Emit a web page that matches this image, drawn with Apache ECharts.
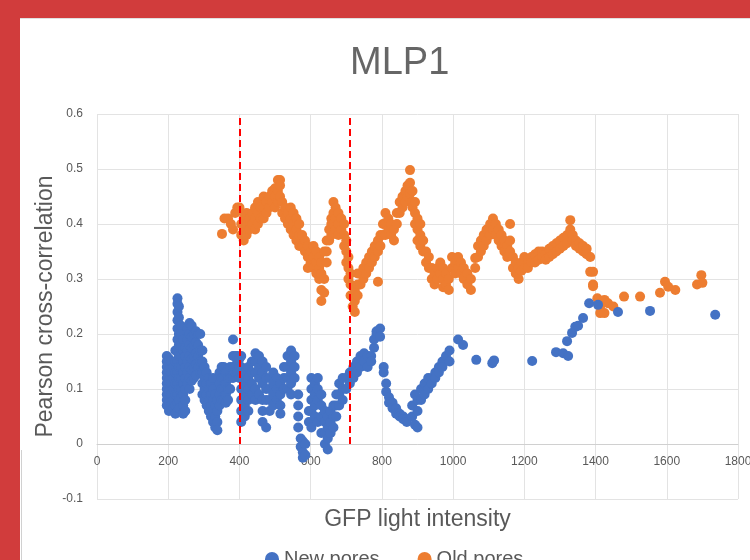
<!DOCTYPE html>
<html><head><meta charset="utf-8">
<script src="https://cdn.jsdelivr.net/npm/echarts@6/dist/echarts.min.js"></script>
<style>html,body{margin:0;padding:0;background:#fff}#c{width:750px;height:560px}</style>
</head><body><div id="c"></div>
<script>
// Each row: [GFP intensity, correlation values observed at that intensity...]
const newPores = [
[196,0.16,0.15,0.14,0.13,0.12,0.11,0.10,0.09,0.08,0.07],
[202,0.155,0.135,0.115,0.095,0.075,0.06],
[208,0.15,0.13,0.11,0.09,0.07],
[214,0.14,0.12,0.10,0.08,0.065],
[220,0.17,0.15,0.13,0.11,0.09,0.07,0.055],
[226,0.265,0.255,0.24,0.225,0.21,0.19,0.17,0.15,0.13,0.11,0.09,0.075],
[230,0.25,0.23,0.20,0.18,0.16,0.14,0.12,0.10,0.08,0.065],
[236,0.215,0.2,0.18,0.16,0.14,0.12,0.10,0.085],
[242,0.19,0.17,0.15,0.13,0.11,0.09,0.07,0.055],
[248,0.175,0.16,0.14,0.12,0.10,0.08,0.06],
[254,0.21,0.19,0.17,0.15,0.13,0.11],
[260,0.22,0.20,0.18,0.16,0.14,0.12,0.10],
[266,0.215,0.195,0.175,0.155,0.135,0.115],
[272,0.20,0.18,0.16,0.14,0.12],
[278,0.205,0.185,0.165,0.145,0.125],
[284,0.20,0.18,0.16,0.14],
[290,0.20,0.17,0.15,0.13],
[296,0.17,0.15,0.13,0.11,0.09],
[302,0.14,0.12,0.10,0.08],
[308,0.13,0.11,0.09,0.07],
[314,0.12,0.10,0.08,0.06],
[320,0.11,0.09,0.07,0.05],
[326,0.12,0.10,0.08,0.06,0.04],
[332,0.09,0.07,0.05,0.03],
[338,0.08,0.06,0.04,0.025],
[344,0.13,0.11,0.09,0.07],
[350,0.14,0.12,0.10,0.08],
[356,0.14,0.12,0.10,0.08],
[362,0.13,0.11,0.09,0.075],
[368,0.12,0.10,0.08],
[374,0.14,0.12,0.10],
[382,0.19,0.16,0.14,0.12],
[388,0.16,0.14,0.13],
[394,0.16,0.15,0.13],
[400,0.155,0.14,0.12],
[405,0.16,0.14,0.12,0.10,0.08,0.06,0.04],
[415,0.13,0.11,0.09,0.07,0.05],
[425,0.14,0.12,0.10,0.08,0.06],
[435,0.15,0.13,0.11,0.09],
[445,0.165,0.15,0.13,0.10,0.08],
[455,0.16,0.14,0.12,0.09],
[465,0.15,0.13,0.11,0.08,0.06,0.04],
[475,0.14,0.12,0.10,0.08,0.03],
[485,0.12,0.10,0.08,0.06],
[495,0.13,0.11,0.09,0.07],
[505,0.12,0.10,0.08],
[515,0.11,0.09,0.07,0.055],
[525,0.14,0.12,0.10],
[535,0.16,0.14,0.12,0.10],
[545,0.17,0.15,0.13,0.11,0.09],
[555,0.16,0.14,0.12],
[565,0.09,0.07,0.05,0.03],
[572,0.01,-0.005],
[578,-0.015,-0.025,0.005],
[585,-0.02,0.0],
[595,0.04,0.06],
[602,0.08,0.10,0.12,0.06,0.03],
[612,0.11,0.09,0.07,0.05],
[620,0.12,0.10,0.08,0.04],
[630,0.09,0.07,0.05,0.02],
[640,0.06,0.04,0.02,0.0],
[648,0.05,0.03,0.01,-0.01],
[656,0.06,0.04,0.02],
[664,0.07,0.05,0.03],
[672,0.09,0.07,0.05],
[680,0.11,0.09,0.07],
[690,0.12,0.10,0.08],
[700,0.12,0.10],
[710,0.13,0.11],
[720,0.14,0.12],
[730,0.15,0.13],
[740,0.16,0.14],
[750,0.165,0.15],
[760,0.16,0.14],
[770,0.16,0.15],
[778,0.175,0.19],
[785,0.20,0.205],
[795,0.21,0.195],
[805,0.14,0.13],
[812,0.11,0.095],
[820,0.085,0.075],
[830,0.075,0.065],
[840,0.065,0.055],
[850,0.055,0.05],
[860,0.05,0.045],
[870,0.045,0.04],
[885,0.07,0.05],
[893,0.09,0.035],
[900,0.08,0.06,0.03],
[910,0.10,0.08],
[920,0.11,0.09],
[930,0.12,0.10],
[940,0.12,0.11],
[950,0.13,0.12],
[960,0.14,0.13],
[970,0.15,0.14],
[980,0.16],
[990,0.17,0.15],
[1014,0.19],[1028,0.18],[1065,0.153],[1110,0.147],[1115,0.152],[1222,0.151],
[1289,0.167],[1309,0.165],[1323,0.16],[1320,0.187],[1334,0.202],[1343,0.213],
[1351,0.215],[1365,0.229],[1382,0.256],[1407,0.253],[1463,0.24],[1553,0.242],[1736,0.235]
];
const oldPores = [
[351,0.382],[358,0.41],[368,0.41],[376,0.40],[382,0.39],[388,0.42],[394,0.43],[400,0.425,0.43],
[405,0.40,0.38],
[412,0.41,0.39,0.37],
[420,0.42,0.40,0.38],
[428,0.41,0.39],
[436,0.42,0.40],
[444,0.43,0.41,0.39],
[452,0.44,0.42,0.40],
[460,0.43,0.41],
[468,0.45,0.43,0.41],
[476,0.44,0.42],
[484,0.45,0.43],
[492,0.46,0.44],
[500,0.465,0.45,0.43],
[508,0.48,0.46,0.44],
[514,0.48,0.47,0.45],
[520,0.44,0.42],
[528,0.43,0.41],
[536,0.42,0.40],
[544,0.43,0.41,0.39],
[552,0.42,0.40,0.38],
[560,0.41,0.39,0.37],
[568,0.40,0.38,0.36],
[576,0.38,0.36],
[584,0.37,0.35],
[592,0.36,0.34,0.32],
[600,0.35,0.33],
[608,0.36,0.34,0.32],
[616,0.35,0.33,0.31],
[624,0.34,0.32,0.30],
[630,0.33,0.31,0.28,0.26],
[638,0.35,0.30,0.275],
[645,0.37,0.35,0.33],
[652,0.39,0.37],
[658,0.41,0.40,0.38],
[664,0.44,0.42,0.40],
[670,0.43,0.41,0.39],
[678,0.42,0.40,0.38],
[686,0.41,0.39],
[694,0.40,0.38,0.36],
[700,0.37,0.35,0.33],
[706,0.34,0.32,0.30],
[712,0.31,0.29,0.27],
[718,0.27,0.25],
[724,0.24,0.26,0.28],
[732,0.27,0.29,0.31],
[740,0.29,0.31],
[748,0.30,0.32],
[756,0.31,0.33],
[764,0.32,0.34],
[772,0.33,0.35],
[780,0.34,0.36],
[789,0.295,0.35,0.37],
[796,0.36,0.38],
[803,0.38,0.40],
[810,0.40,0.42,0.38],
[818,0.41,0.39],
[826,0.40,0.38],
[834,0.39,0.37],
[842,0.40,0.42],
[850,0.42,0.44],
[858,0.43,0.45],
[866,0.44,0.46],
[872,0.47,0.45],
[879,0.498,0.475,0.455],
[886,0.46,0.44,0.43],
[893,0.44,0.42,0.40],
[900,0.41,0.39,0.37],
[908,0.40,0.38,0.36],
[916,0.37,0.35],
[924,0.35,0.33],
[932,0.34,0.32],
[940,0.32,0.30],
[948,0.31,0.29],
[956,0.32,0.30],
[964,0.33,0.31],
[972,0.32,0.30,0.285],
[980,0.31,0.29],
[988,0.30,0.28],
[997,0.34,0.32],
[1006,0.33,0.31],
[1014,0.34,0.32],
[1022,0.33,0.31],
[1030,0.32,0.30],
[1040,0.31,0.29],
[1050,0.30,0.28],
[1062,0.338,0.32],
[1070,0.36,0.34],
[1078,0.37,0.35],
[1086,0.38,0.36],
[1094,0.39,0.37],
[1104,0.40,0.38],
[1112,0.41,0.39],
[1120,0.40,0.38],
[1128,0.39,0.37],
[1136,0.38,0.36],
[1144,0.37,0.35],
[1152,0.36,0.34],
[1160,0.40,0.37,0.35],
[1168,0.34,0.32],
[1176,0.33,0.31],
[1184,0.30,0.32],
[1192,0.33,0.315],
[1200,0.34,0.32],
[1210,0.335,0.32],
[1220,0.34,0.33],
[1230,0.345,0.33],
[1240,0.35,0.335],
[1250,0.35,0.34],
[1260,0.345,0.335],
[1270,0.355,0.34],
[1280,0.36,0.345],
[1290,0.365,0.35],
[1300,0.37,0.355],
[1310,0.375,0.36],
[1320,0.38,0.365],
[1329,0.407,0.39],
[1336,0.38,0.37],
[1345,0.37,0.36],
[1355,0.365,0.355],
[1365,0.36,0.35],
[1375,0.355,0.345],
[1385,0.34,0.313],
[1393,0.313,0.29,0.287],
[1405,0.265],
[1413,0.25,0.238],
[1425,0.262,0.238],
[1435,0.256],
[1450,0.25],
[1480,0.268],[1525,0.268],[1581,0.275],[1595,0.295],[1604,0.286],[1624,0.28],
[1685,0.29],[1697,0.307],[1700,0.293]
];
const cutoffs = [400, 710];
const xTicks = {min: 0, max: 1800, step: 200};
const yTicks = {min: -0.1, max: 0.6, step: 0.1};
const seriesNames = ['New pores', 'Old pores'];

function toPairs(rows){
  const out = [];
  rows.forEach(r => { for (let i = 1; i < r.length; i++) out.push([r[0], r[i]]); });
  return out;
}

const GRID = {left: 97, right: 12, top: 114, bottom: 61};
const plotH = 560 - GRID.top - GRID.bottom;
// x axis sits at y = 0, i.e. one y step above the bottom of the plot
const zeroOffset = -plotH * (0 - yTicks.min) / (yTicks.max - yTicks.min);

const chart = echarts.init(document.getElementById('c'), null, {renderer: 'canvas'});
const txt = '#595959';
const font = 'Liberation Sans, Arial, sans-serif';
chart.setOption({
  backgroundColor: '#ffffff',
  animation: false,
  title: {
    text: 'MLP1', left: 345, top: 40,
    textStyle: {fontFamily: font, fontSize: 38, fontWeight: 'normal', color: '#666666'}
  },
  legend: {
    bottom: -14, left: 260, itemGap: 38, itemWidth: 14, itemHeight: 14,
    icon: 'circle',
    textStyle: {fontFamily: font, fontSize: 20, color: txt}
  },
  grid: Object.assign({outerBoundsMode: 'none', containLabel: false}, GRID),
  xAxis: {
    type: 'value', min: xTicks.min, max: xTicks.max, interval: xTicks.step,
    offset: zeroOffset,
    name: 'GFP light intensity', nameLocation: 'middle', nameGap: 64,
    nameTextStyle: {fontFamily: font, fontSize: 23, color: txt},
    axisLine: {onZero: false, lineStyle: {color: '#d0d0d0', width: 1}},
    axisTick: {show: false},
    axisLabel: {fontFamily: font, fontSize: 12, color: txt, margin: 12,
      formatter: v => String(v)},
    splitLine: {show: true, lineStyle: {color: '#e3e3e3', width: 1}}
  },
  yAxis: {
    type: 'value', min: yTicks.min, max: yTicks.max, interval: yTicks.step,
    name: 'Pearson cross-correlation', nameLocation: 'middle', nameGap: 40,
    nameMoveOverlap: false,
    nameTextStyle: {fontFamily: font, fontSize: 23, color: txt},
    axisLine: {show: false},
    axisTick: {show: false},
    axisLabel: {fontFamily: font, fontSize: 12, color: txt, margin: 14,
      formatter: v => String(Math.round(v * 10) / 10)},
    splitLine: {show: true, lineStyle: {color: '#e3e3e3', width: 1}}
  },
  series: [
    {
      name: seriesNames[0], type: 'scatter', symbolSize: 10,
      itemStyle: {color: '#4472C4', opacity: 1},
      data: toPairs(newPores), z: 3
    },
    {
      name: seriesNames[1], type: 'scatter', symbolSize: 10,
      itemStyle: {color: '#ED7D31', opacity: 1},
      data: toPairs(oldPores), z: 2,
      markLine: {
        silent: true, symbol: ['none', 'none'], z: 5,
        label: {show: false},
        lineStyle: {color: '#ff0000', type: [7, 4], width: 2},
        data: cutoffs.map(c => [{coord: [c, 0]}, {coord: [c, 0.6]}])
      }
    }
  ],
  graphic: [
    {type: 'rect', shape: {x: 0, y: 0, width: 750, height: 18}, style: {fill: '#d13c3c'}, z: 100},
    {type: 'rect', shape: {x: 0, y: 0, width: 20, height: 560}, style: {fill: '#d13c3c'}, z: 100},
    {type: 'line', shape: {x1: 21.5, y1: 450, x2: 21.5, y2: 560}, style: {stroke: '#d0d0d0', lineWidth: 1}, z: 100},
    {type: 'line', shape: {x1: 20, y1: 18.5, x2: 750, y2: 18.5}, style: {stroke: '#e0e0e0', lineWidth: 1}, z: 100}
  ]
});
</script>
</body></html>
